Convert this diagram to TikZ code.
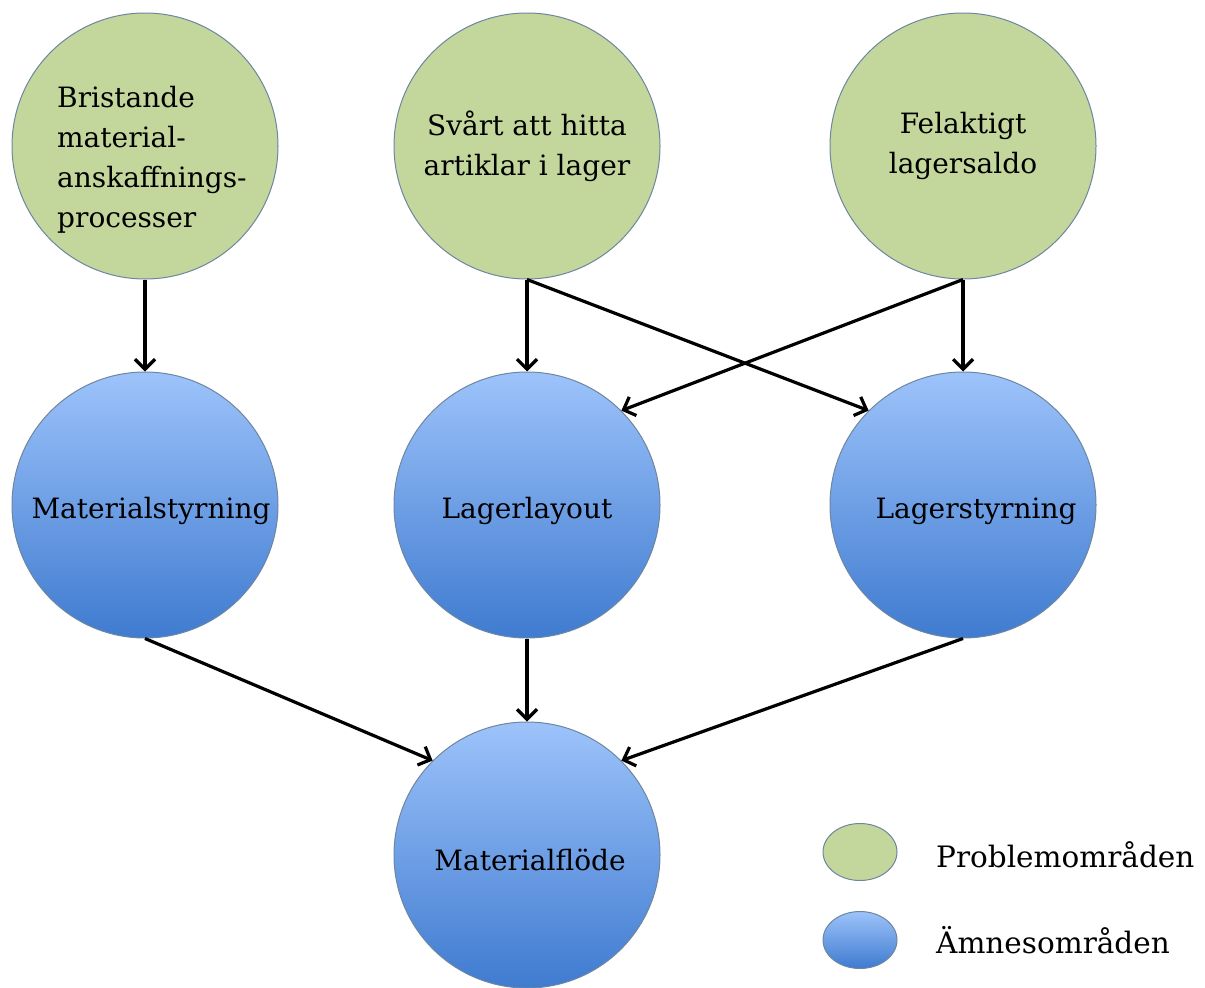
\documentclass[tikz,border=0pt]{standalone}
\usepackage{fontspec}
\setmainfont{DejaVu Serif}
\usetikzlibrary{arrows.meta,shapes.geometric}
\definecolor{probfill}{HTML}{C3D69B}
\definecolor{rimline}{HTML}{6E86A0}
\definecolor{bluetop}{HTML}{9DC3FA}
\definecolor{bluebot}{HTML}{3F7BD0}
\newcommand\labelfont{\fontsize{28}{40}\selectfont}
\tikzset{
  problem/.style={circle, draw=rimline, line width=1pt, fill=probfill,
    minimum size=266pt, inner sep=0pt, font=\labelfont},
  subject/.style={circle, draw=rimline, line width=1pt, top color=bluetop,
    bottom color=bluebot, minimum size=266pt, inner sep=0pt},
  caption/.style={font=\labelfont, inner sep=0pt},
  link/.style={line width=3.2pt, -{Straight Barb[length=10pt,width=20pt,line width=3.2pt]}},
  legendtext/.style={anchor=west, font=\fontsize{29.5}{40}\selectfont, inner sep=0pt}
}
\begin{document}
\begin{tikzpicture}[x=1pt,y=-1pt]
\useasboundingbox (0,0) rectangle (1205,988);
% problem areas
\node[problem] (p1) at (145,146) {};
\node[caption, anchor=north west, align=left] (p1t) at (57,86) {Bristande\\material-\\anskaffnings-\\processer};
\node[problem, align=center] (p2) at (527,146) {Svårt att hitta\\artiklar i lager};
\node[problem, align=center] (p3) at (963,146) {Felaktigt\\lagersaldo};
% subject areas
\node[subject] (s1) at (145,505) {};
\node[caption] (s1t) at (151,511) {Materialstyrning};
\node[subject] (s2) at (527,505) {};
\node[caption] (s2t) at (527,511) {Lagerlayout};
\node[subject] (s3) at (963,505) {};
\node[caption] (s3t) at (976,511) {Lagerstyrning};
\node[subject] (m) at (527,855) {};
\node[caption] (mt) at (530,860) {Materialflöde};
% connectors
\draw[link] (p1.south) -- (s1.north);
\draw[link] (p2.south) -- (s2.north);
\draw[link] (p2.south) -- (s3.135);
\draw[link] (p3.south) -- (s3.north);
\draw[link] (p3.south) -- (s2.45);
\draw[link] (s1.south) -- (m.135);
\draw[link] (s2.south) -- (m.north);
\draw[link] (s3.south) -- (m.45);
% legend
\node[ellipse, draw=rimline, line width=1pt, fill=probfill, minimum width=74pt, minimum height=57pt, inner sep=0pt] (lg1) at (860,852) {};
\node[ellipse, draw=rimline, line width=1pt, top color=bluetop, bottom color=bluebot, minimum width=74pt, minimum height=57pt, inner sep=0pt] (lg2) at (860,940) {};
\node[legendtext] (lt1) at (936,855) {Problemområden};
\node[legendtext] (lt2) at (936,940) {Ämnesområden};
\end{tikzpicture}
\end{document}
